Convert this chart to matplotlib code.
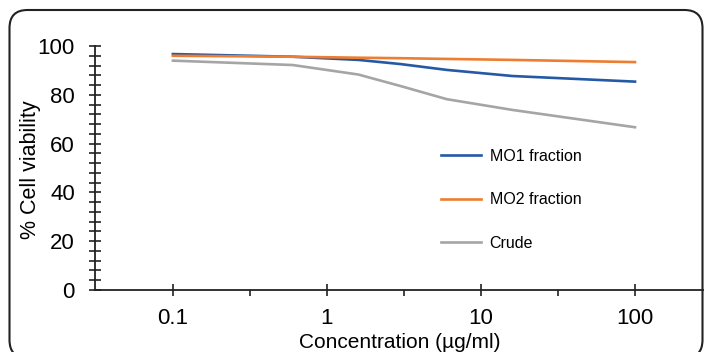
import numpy as np
import matplotlib
matplotlib.use("Agg")
import matplotlib.pyplot as plt
from matplotlib.patches import FancyBboxPatch
from matplotlib.ticker import FixedLocator, MultipleLocator, NullFormatter
import matplotlib.transforms as mtransforms

# concentrations (ug/ml) and % viability
conc = [0.1, 0.6, 1.6, 3, 6, 16, 100]
mo1 = [96.7, 95.6, 94.3, 92.6, 90.2, 87.7, 85.4]
mo2 = [96.0, 95.6, 95.2, 95.0, 94.7, 94.3, 93.4]
crude = [94.0, 92.2, 88.3, 83.6, 78.2, 73.8, 66.7]

series_names = ["MO1 fraction", "MO2 fraction", "Crude"]
series_colors = ["#2559a6", "#ed7d31", "#a5a5a5"]
xticks = [0.1, 1, 10, 100]
xtick_labels = ["0.1", "1", "10", "100"]

plt.rcParams['font.family'] = ['Liberation Sans', 'DejaVu Sans']

W, H = 704, 352
fig = plt.figure(figsize=(W / 100, H / 100), dpi=100)

# axes placed in pixel terms
left, right, bottom, top = 95, 704, 290, 46
ax = fig.add_axes([left / W, (H - bottom) / H, (right - left) / W, (bottom - top) / H])

for vals, name, col in zip([mo1, mo2, crude], series_names, series_colors):
    ax.plot(conc, vals, color=col, lw=1.9, label=name, solid_joinstyle='round')

ax.set_xscale('log')
ax.set_xlim(10 ** -1.506, 10 ** 2.448)
ax.set_ylim(0, 100)

ax.xaxis.set_major_locator(FixedLocator(xticks))
ax.set_xticklabels(xtick_labels)
ax.xaxis.set_minor_locator(FixedLocator([10 ** -0.5, 10 ** 0.5, 10 ** 1.5]))
ax.xaxis.set_minor_formatter(NullFormatter())
ax.yaxis.set_major_locator(MultipleLocator(20))
ax.yaxis.set_minor_locator(MultipleLocator(4))

for s in ['top', 'right']:
    ax.spines[s].set_visible(False)
for s in ['left', 'bottom']:
    ax.spines[s].set_linewidth(1.3)
    ax.spines[s].set_color('#222222')

ax.tick_params(axis='y', which='both', direction='inout', length=8, width=1.2, color='#222222')
ax.tick_params(axis='y', which='major', labelsize=16, pad=10.5)
ax.tick_params(axis='x', which='major', direction='inout', length=8, width=1.2, labelsize=16, pad=9, color='#222222')
ax.tick_params(axis='x', which='minor', direction='out', length=4, width=1.2, color='#222222')

ax.set_xlabel("Concentration (\u00b5g/ml)", fontsize=15)
ax.xaxis.set_label_coords(0.5, -(333 - bottom) / (bottom - top))
ax.set_ylabel("% Cell viability", fontsize=15.5)
ax.yaxis.set_label_coords((41 - left) / (right - left), (bottom - 170) / (bottom - top))

ax.legend(loc='upper left', bbox_to_anchor=((441 - left) / (right - left), (bottom - 149) / (bottom - top)),
          frameon=False, fontsize=11.5, handlelength=2.5, handletextpad=0.55,
          labelspacing=1.78, borderpad=0, borderaxespad=0)

# rounded outer frame, its bottom edge falls just below the picture
frame = FancyBboxPatch((9.5, -6), 693, 348, boxstyle='round,pad=0,rounding_size=18',
                       transform=mtransforms.IdentityTransform(), fill=False,
                       edgecolor='#222222', linewidth=1.5)
fig.patches.append(frame)

fig.savefig('out.png', dpi=100)
